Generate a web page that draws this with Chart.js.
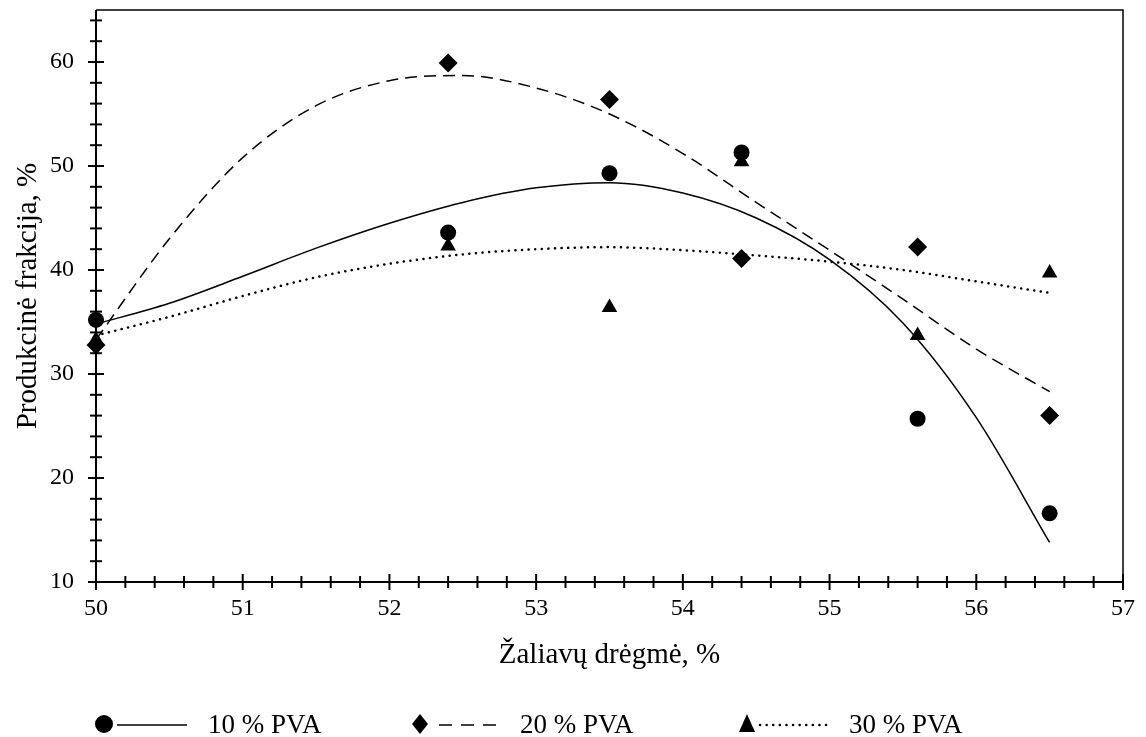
<!DOCTYPE html>
<html>
<head>
<meta charset="utf-8">
<script src="https://cdn.jsdelivr.net/npm/chart.js@4/dist/chart.umd.min.js"></script>
<style>
  html, body { margin: 0; padding: 0; background: #fff; }
  #wrap { width: 1146px; height: 737px; position: relative; }
</style>
</head>
<body>
<div id="wrap"><canvas id="pvaChart"></canvas></div>
<script>
// measured points
const moisture = [50, 52.4, 53.5, 54.4, 55.6, 56.5];
const pva10 = [35.2, 43.6, 49.3, 51.3, 25.7, 16.6];
const pva20 = [32.8, 59.9, 56.4, 41.1, 42.2, 26.0];
const pva30 = [33.3, 42.3, 36.4, 50.4, 33.7, 39.7];

// trend lines
const trendX = [50, 50.5, 51, 51.5, 52, 52.5, 53, 53.5, 54, 54.5, 55, 55.5, 56, 56.5];
const trend10 = [34.8, 36.8, 39.4, 42.1, 44.5, 46.5, 47.9, 48.4, 47.4, 45.0, 41.0, 34.9, 25.8, 13.8];
const trend20 = [33.3, 43.0, 50.8, 55.8, 58.2, 58.7, 57.5, 55.0, 51.2, 46.5, 41.9, 37.2, 32.4, 28.3];
const trend30 = [33.7, 35.5, 37.5, 39.3, 40.6, 41.5, 42.0, 42.2, 41.9, 41.4, 40.8, 40.0, 38.9, 37.8];

const xTicks = [50, 51, 52, 53, 54, 55, 56, 57];
const yTicks = [10, 20, 30, 40, 50, 60];
const seriesNames = ["10 % PVA", "20 % PVA", "30 % PVA"];

const serif = '"Liberation Serif", "Times New Roman", serif';

function toPoints(xs, ys) {
    return xs.map((v, i) => ({ x: v, y: ys[i] }));
}

const axisFrame = {
    id: "axisFrame",
    afterDraw(chart) {
        const { ctx, chartArea: a, scales: { x, y } } = chart;
        ctx.save();
        ctx.strokeStyle = "#000";
        ctx.lineWidth = 1.5;
        ctx.beginPath();
        ctx.moveTo(a.left, a.top);
        ctx.lineTo(a.right, a.top);
        ctx.lineTo(a.right, a.bottom);
        ctx.stroke();

        ctx.lineWidth = 2;
        ctx.beginPath();
        ctx.moveTo(a.left, a.top);
        ctx.lineTo(a.left, a.bottom);
        ctx.lineTo(a.right, a.bottom);
        ctx.stroke();

        // x ticks every 0.2, crossing the axis
        for (let i = 0; i <= 35; i++) {
            const v = 50 + i * 0.2;
            const px = x.getPixelForValue(v);
            const major = i % 5 === 0;
            ctx.beginPath();
            ctx.moveTo(px, a.bottom - (major ? 8 : 6));
            ctx.lineTo(px, a.bottom + (major ? 8 : 6));
            ctx.stroke();
        }
        // y ticks every 2
        for (let v = 10; v <= 64; v += 2) {
            const py = y.getPixelForValue(v);
            const major = v % 10 === 0;
            ctx.beginPath();
            ctx.moveTo(a.left - (major ? 8 : 6), py);
            ctx.lineTo(a.left + (major ? 8 : 6), py);
            ctx.stroke();
        }
        ctx.restore();
    }
};

const bottomLegend = {
    id: "bottomLegend",
    afterDraw(chart) {
        const ctx = chart.ctx;
        const ly = 724;
        const items = [
            { marker: "circle", mx: 104, x1: 117, x2: 187, dash: [], cap: "butt", w: 1.5, tx: 208 },
            { marker: "diamond", mx: 420, x1: 439, x2: 497, dash: [13, 9], cap: "butt", w: 1.5, tx: 520 },
            { marker: "triangle", mx: 747, x1: 760, x2: 830, dash: [0.1, 6.5], cap: "round", w: 2.5, tx: 849 }
        ];
        ctx.save();
        ctx.fillStyle = "#000";
        ctx.strokeStyle = "#000";
        items.forEach((it, i) => {
            ctx.beginPath();
            if (it.marker === "circle") {
                ctx.arc(it.mx, ly, 9, 0, Math.PI * 2);
            } else if (it.marker === "diamond") {
                ctx.moveTo(it.mx, ly - 10);
                ctx.lineTo(it.mx + 8, ly);
                ctx.lineTo(it.mx, ly + 10);
                ctx.lineTo(it.mx - 8, ly);
                ctx.closePath();
            } else {
                ctx.moveTo(it.mx, ly - 10);
                ctx.lineTo(it.mx + 8, ly + 8);
                ctx.lineTo(it.mx - 8, ly + 8);
                ctx.closePath();
            }
            ctx.fill();

            ctx.lineWidth = it.w;
            ctx.lineCap = it.cap;
            ctx.setLineDash(it.dash);
            ctx.beginPath();
            ctx.moveTo(it.x1, ly + 1);
            ctx.lineTo(it.x2, ly + 1);
            ctx.stroke();
            ctx.setLineDash([]);

            ctx.font = "27px " + serif;
            ctx.textBaseline = "middle";
            ctx.fillText(seriesNames[i], it.tx, ly + 2);
        });
        ctx.restore();
    }
};

const pointSet = (label, ys, style, radius) => ({
    label: label,
    data: toPoints(moisture, ys),
    showLine: false,
    pointStyle: style,
    pointRadius: radius,
    pointHoverRadius: radius,
    pointBackgroundColor: "#000",
    pointBorderColor: "#000",
    pointBorderWidth: 0,
    clip: false
});

const trendSet = (label, ys, dash, width, cap) => ({
    label: label,
    data: toPoints(trendX, ys),
    showLine: true,
    pointRadius: 0,
    borderColor: "#000",
    borderWidth: width,
    borderDash: dash,
    borderCapStyle: cap,
    cubicInterpolationMode: "monotone",
    fill: false
});

new Chart(document.getElementById("pvaChart"), {
    type: "scatter",
    data: {
        datasets: [
            pointSet("10 % PVA", pva10, "circle", 8),
            pointSet("20 % PVA", pva20, "rectRot", 9.5),
            pointSet("30 % PVA", pva30, "triangle", 9),
            trendSet("10 % PVA trend", trend10, [], 1.5, "butt"),
            trendSet("20 % PVA trend", trend20, [12, 7], 1.5, "butt"),
            trendSet("30 % PVA trend", trend30, [0.1, 6.5], 2.5, "round")
        ]
    },
    options: {
        responsive: true,
        maintainAspectRatio: false,
        animation: false,
        layout: {
            padding: { top: 10, right: 23, bottom: 60, left: 7 }
        },
        plugins: {
            legend: { display: false },
            tooltip: { enabled: false }
        },
        scales: {
            x: {
                type: "linear",
                min: 50,
                max: 57,
                afterBuildTicks: scale => {
                    scale.ticks = xTicks.map(v => ({ value: v }));
                },
                afterFit: scale => {
                    scale.height = 95;
                    scale.paddingLeft = 0;
                    scale.paddingRight = 0;
                },
                ticks: {
                    padding: 12,
                    color: "#000",
                    font: { family: serif, size: 24 }
                },
                grid: { display: false, drawTicks: false },
                border: { display: false },
                title: {
                    display: true,
                    text: "Žaliavų drėgmė, %",
                    color: "#000",
                    font: { family: serif, size: 29 }
                }
            },
            y: {
                min: 10,
                max: 65,
                afterBuildTicks: scale => {
                    scale.ticks = yTicks.map(v => ({ value: v }));
                },
                afterFit: scale => {
                    scale.width = 89;
                    scale.paddingTop = 0;
                    scale.paddingBottom = 0;
                },
                ticks: {
                    padding: 22,
                    color: "#000",
                    font: { family: serif, size: 24 }
                },
                grid: { display: false, drawTicks: false },
                border: { display: false },
                title: {
                    display: true,
                    text: "Produkcinė frakcija, %",
                    color: "#000",
                    font: { family: serif, size: 29 }
                }
            }
        }
    },
    plugins: [axisFrame, bottomLegend]
});
</script>
</body>
</html>
